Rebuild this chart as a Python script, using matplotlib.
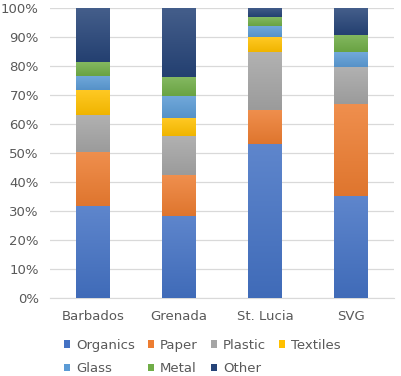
import matplotlib
matplotlib.use("Agg")
import matplotlib.pyplot as plt
import numpy as np
from matplotlib.patches import Patch
from matplotlib.colors import to_rgb

countries = ["Barbados", "Grenada", "St. Lucia", "SVG"]
materials = ["Organics", "Paper", "Plastic", "Textiles", "Glass", "Metal", "Other"]
organics = [31.6, 28.4, 53.1, 35.1]
paper = [18.7, 13.9, 11.8, 31.8]
plastic = [12.9, 13.7, 19.9, 12.8]
textiles = [8.6, 6.1, 5.1, 0.0]
glass = [4.9, 7.7, 4.0, 5.1]
metal = [4.7, 6.4, 2.9, 6.0]
other = [18.6, 23.8, 3.2, 9.2]
series = [organics, paper, plastic, textiles, glass, metal, other]
colors = ["#4472C4", "#ED7D31", "#A5A5A5", "#FFC000", "#5B9BD5", "#70AD47", "#264478"]

fig = plt.figure(figsize=(4.01, 3.76), dpi=100)
ax = fig.add_axes([50/401, 1-298/376, 344/401, 290/376])

width = 0.39
x = np.arange(len(countries))
bottom = np.zeros(len(countries))


def shade(c, f):
    r = np.array(to_rgb(c))
    if f > 0:
        return r + (1 - r) * f
    return r * (1 + f)


for vals, col in zip(series, colors):
    v = np.array(vals)
    bars = ax.bar(x, v, bottom=bottom, width=width, color=col, zorder=3)
    top = shade(col, 0.14)
    bot = shade(col, -0.06)
    grad = np.linspace(0, 1, 64)[:, None, None]
    img = top[None, None, :] * (1 - grad) + bot[None, None, :] * grad
    for b in bars:
        if b.get_height() <= 0:
            continue
        x0, y0 = b.get_x(), b.get_y()
        ax.imshow(img, extent=(x0, x0 + b.get_width(), y0, y0 + b.get_height()),
                  origin="upper", aspect="auto", interpolation="bilinear", zorder=3.5)
    bottom += v

ax.set_xlim(-0.5, 3.5)
ax.set_ylim(0, 100)
ax.set_aspect("auto")
ax.set_yticks(np.arange(0, 101, 10))
ax.set_yticklabels([f"{t}%" for t in range(0, 101, 10)])
ax.set_xticks(x)
ax.set_xticklabels(countries)
ax.grid(axis="y", color="#D9D9D9", linewidth=0.9, zorder=0)
for s in ["top", "right", "left"]:
    ax.spines[s].set_visible(False)
ax.spines["bottom"].set_color("#D9D9D9")
ax.tick_params(axis="both", length=0, colors="#595959", labelsize=9.5)
ax.tick_params(axis="y", pad=8)
ax.tick_params(axis="x", pad=9)

order = [0, 4, 1, 5, 2, 6, 3]
handles = [Patch(facecolor=colors[i], edgecolor="none") for i in order]
labels = [materials[i] for i in order]
fig.legend(handles, labels, ncol=4, loc="center", bbox_to_anchor=(0.505, 1-357/376),
           frameon=False, fontsize=9.5, handlelength=0.45, handleheight=0.45,
           handletextpad=0.45, columnspacing=1.0, labelcolor="#595959",
           borderaxespad=0, labelspacing=0.8)

fig.savefig("out.png", dpi=100)
